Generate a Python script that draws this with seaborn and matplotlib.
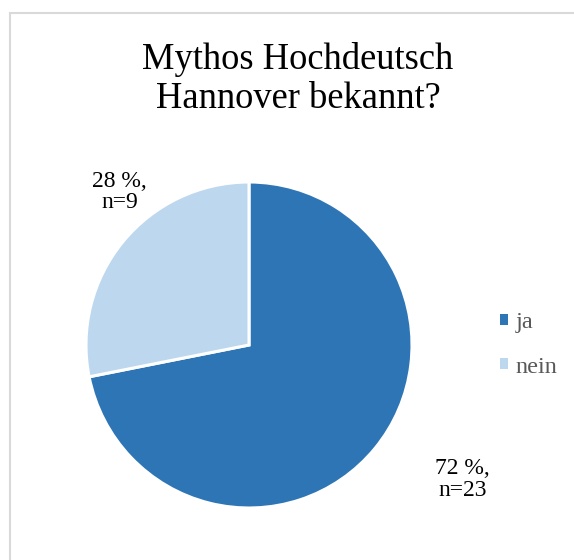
import numpy as np
import matplotlib.pyplot as plt
import seaborn as sns
from matplotlib.patches import Rectangle

# survey answers
labels = ['ja', 'nein']
counts = [23, 9]
percents = [72, 28]
colors = ['#2E75B6', '#BDD7EE']

sns.set_theme(style='white')
plt.rcParams['font.family'] = ['Liberation Serif', 'DejaVu Serif']

W, H = 574, 560
fig = plt.figure(figsize=(W / 100, H / 100), dpi=100)

# chart frame (cut off on the right and bottom like the original)
fig.patches.append(Rectangle((10 / W, -0.1), 1.2, 1 - 13 / H + 0.1,
                             transform=fig.transFigure, fill=False,
                             edgecolor='#D9D9D9', linewidth=1.5))

cx, cy, r = 249, 345, 163
ax = fig.add_axes([(cx - r) / W, (H - cy - r) / H, 2 * r / W, 2 * r / H])
wedges, _ = ax.pie(counts, colors=colors, startangle=90, counterclock=False,
                   wedgeprops=dict(edgecolor='white', linewidth=2.2))
ax.set_xlim(-1, 1)
ax.set_ylim(-1, 1)
ax.set_aspect('equal')
ax.axis('off')

# data labels, placed around each slice
offsets = [(7.2, 1.55), (-10.4, 1.23)]
for w, p, n, (da, dist) in zip(wedges, percents, counts, offsets):
    ang = np.deg2rad((w.theta1 + w.theta2) / 2 + da)
    ax.text(dist * np.cos(ang), dist * np.sin(ang), f'{p} %,\nn={n}',
            ha='center', va='center', fontsize=17, color='black',
            linespacing=1.05)

fig.text(298 / W, 1 - 79 / H, 'Mythos Hochdeutsch\nHannover bekannt?',
         ha='center', va='center', fontsize=26.3, color='black',
         linespacing=1.2)

leg = fig.legend(wedges, labels, loc='center left',
                 bbox_to_anchor=(500 / W, 1 - 345 / H), frameon=False,
                 borderpad=0, borderaxespad=0,
                 handlelength=0.32, handleheight=0.32, handletextpad=0.33,
                 labelspacing=0.95, fontsize=17.5, labelcolor='#595959')
for h in leg.legend_handles:
    h.set_edgecolor('none')

fig.savefig('out.png', dpi=100)
